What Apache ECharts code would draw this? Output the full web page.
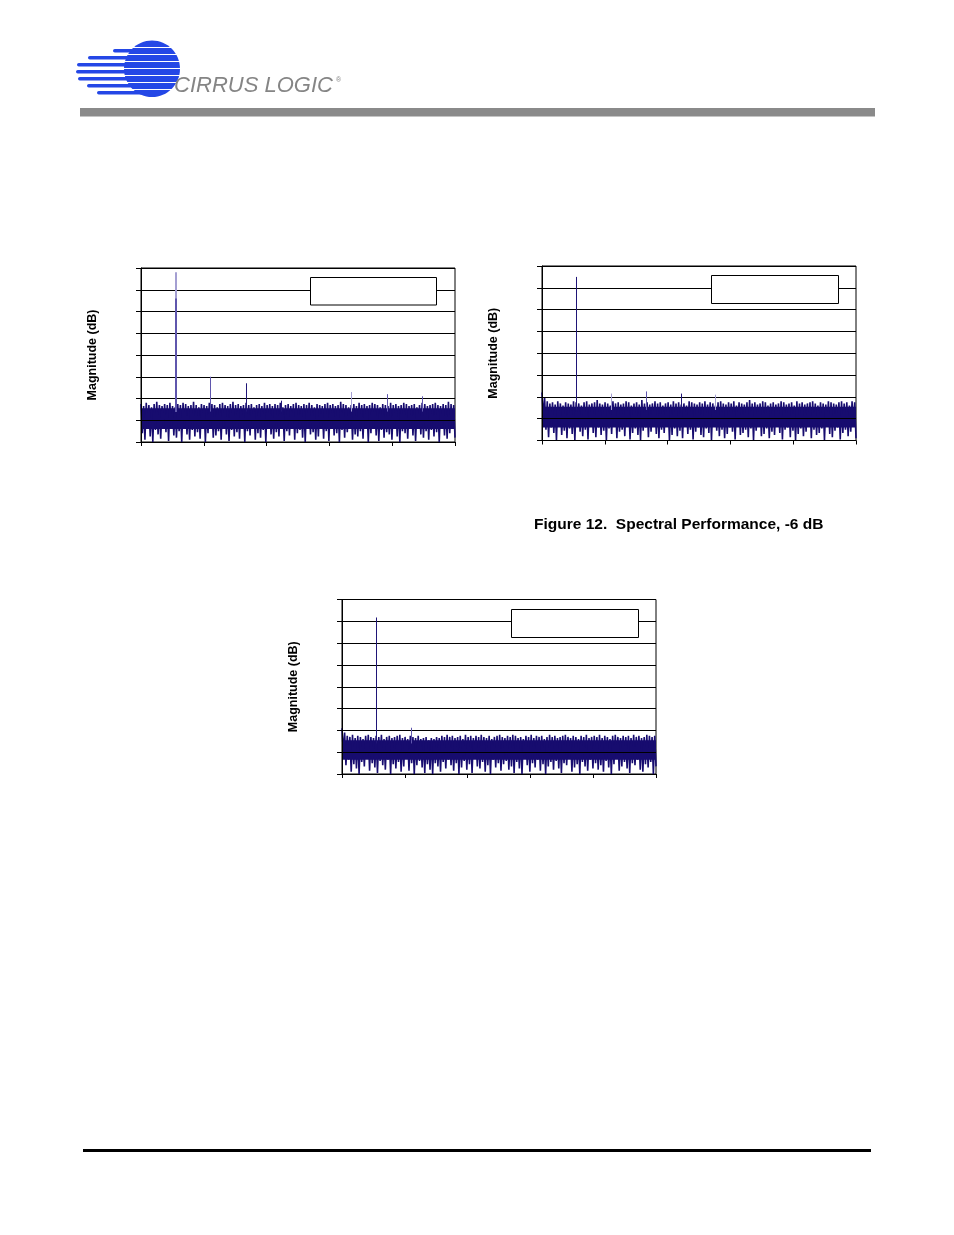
<!DOCTYPE html>
<html>
<head>
<meta charset="utf-8">
<script src="https://cdn.jsdelivr.net/npm/echarts@6/dist/echarts.min.js"></script>
<style>
html,body{margin:0;padding:0;background:#fff;}
#page{width:954px;height:1235px;}
</style>
</head>
<body>
<div id="page"></div>
<script>
// ---------- DATA ----------
const axisTitle = 'Magnitude (dB)';
const caption = 'Figure 12.  Spectral Performance, -6 dB';
const freqRange = [0, 20];        // kHz, 5 divisions (labels not shown in reference)
const magRange = [-160, 0];       // dB, 8 divisions (labels not shown in reference)

// Noise floor: per-bin peak (top) and trough (dip), dB
const tops1 = [-125,-127,-124,-126,-128,-125,-123,-126,-127,-125,-126,-124,-127,-128,-125,-126,-124,-125,-127,-126,-123,-126,-128,-125,-126,-127,-124,-125,-126,-128,-125,-124,-126,-127,-125,-123,-126,-125,-127,-126,-124,-126,-125,-128,-126,-125,-127,-124,-126,-125,-127,-125,-126,-124,-128,-126,-125,-127,-125,-124,-126,-127,-125,-126,-124,-126,-128,-125,-126,-127,-125,-124,-126,-125,-127,-126,-123,-125,-126,-128,-126,-125,-127,-124,-126,-125,-127,-126,-124,-125,-126,-128,-125,-126,-127,-124,-126,-125,-127,-126,-124,-125,-127,-126,-125,-128,-126,-124,-125,-127,-126,-125,-124,-126,-127,-125,-126,-123,-125,-126];
const dips1 = [-152,-158,-147,-155,-160,-149,-153,-157,-145,-151,-159,-148,-154,-156,-150,-160,-146,-153,-158,-149,-155,-151,-157,-147,-160,-152,-148,-156,-154,-150,-158,-146,-153,-159,-149,-155,-151,-157,-148,-160,-150,-154,-147,-158,-152,-156,-149,-160,-145,-153,-157,-151,-155,-148,-159,-150,-154,-146,-158,-152,-149,-156,-160,-147,-153,-151,-158,-155,-148,-157,-150,-159,-146,-154,-152,-160,-149,-156,-151,-147,-158,-153,-155,-150,-157,-148,-160,-152,-146,-154,-159,-149,-156,-151,-153,-158,-147,-155,-160,-150,-152,-157,-148,-154,-159,-146,-153,-156,-150,-158,-149,-155,-151,-160,-147,-154,-157,-152,-148,-156];
const tops2 = [-116,-121,-124,-126,-125,-127,-124,-126,-128,-125,-126,-127,-124,-125,-126,-128,-125,-124,-127,-126,-125,-123,-126,-127,-125,-126,-128,-124,-126,-125,-127,-126,-124,-125,-128,-126,-125,-127,-123,-126,-125,-127,-126,-124,-126,-125,-128,-126,-125,-127,-124,-126,-125,-127,-126,-128,-124,-125,-126,-127,-125,-126,-124,-127,-125,-126,-128,-125,-124,-126,-127,-125,-126,-124,-128,-125,-126,-127,-125,-123,-126,-125,-127,-126,-124,-125,-128,-126,-125,-127,-126,-124,-125,-127,-126,-125,-128,-124,-126,-125,-127,-126,-125,-124,-126,-128,-125,-126,-127,-124,-125,-126,-127,-125,-124,-126,-125,-128,-124,-125];
const dips2 = [-138,-150,-157,-148,-153,-160,-146,-155,-151,-158,-149,-154,-160,-147,-152,-156,-150,-159,-145,-153,-157,-148,-155,-151,-160,-149,-154,-146,-158,-152,-150,-156,-147,-159,-153,-149,-155,-160,-151,-148,-157,-152,-146,-154,-158,-150,-153,-147,-160,-155,-149,-156,-151,-158,-146,-154,-150,-159,-152,-148,-155,-157,-149,-153,-160,-147,-151,-156,-150,-158,-154,-148,-152,-159,-146,-155,-153,-150,-157,-149,-160,-151,-147,-156,-154,-149,-158,-152,-155,-146,-153,-159,-150,-148,-157,-151,-160,-154,-149,-156,-152,-147,-158,-150,-155,-153,-149,-160,-146,-154,-157,-151,-148,-159,-153,-150,-156,-152,-147,-158];
const tops3 = [-118,-122,-125,-126,-124,-127,-125,-126,-128,-125,-124,-126,-127,-125,-126,-124,-128,-126,-125,-127,-126,-125,-124,-127,-126,-128,-125,-126,-127,-125,-128,-127,-126,-129,-127,-128,-126,-127,-125,-126,-124,-126,-125,-127,-126,-125,-128,-124,-126,-125,-127,-125,-126,-124,-126,-127,-125,-128,-126,-125,-124,-126,-127,-125,-126,-124,-125,-127,-126,-128,-125,-126,-124,-127,-125,-126,-125,-128,-126,-124,-126,-125,-127,-126,-125,-124,-126,-127,-125,-126,-128,-125,-126,-124,-127,-126,-125,-126,-124,-127,-125,-126,-128,-125,-124,-126,-127,-125,-126,-125,-127,-124,-126,-125,-127,-126,-124,-125,-126,-125];
const dips3 = [-140,-152,-147,-158,-151,-155,-160,-149,-153,-146,-157,-150,-154,-159,-148,-152,-156,-147,-160,-151,-155,-149,-158,-153,-146,-157,-150,-160,-152,-148,-154,-159,-151,-156,-160,-150,-153,-158,-149,-155,-147,-152,-157,-150,-160,-154,-148,-156,-151,-159,-146,-153,-155,-149,-158,-152,-160,-147,-154,-150,-157,-151,-148,-156,-153,-159,-149,-155,-160,-146,-152,-158,-150,-154,-147,-157,-151,-160,-153,-149,-156,-148,-155,-159,-150,-152,-146,-158,-154,-151,-160,-149,-153,-157,-147,-155,-150,-156,-152,-158,-148,-154,-160,-151,-146,-157,-153,-149,-155,-159,-150,-152,-147,-156,-158,-151,-154,-149,-160,-153];

// Solid core of the noise floor (dB)
const core1 = [-129, -148];
const core2 = [-129, -148];
const core3 = [-129, -147];

// Discrete tones: frequency (kHz), peak (dB), shade
const toneFreq1 = [2.21, 2.21, 4.44, 6.71, 8.94, 13.41, 15.66, 17.93];
const tonePeak1 = [-4, -28, -100, -106, -122, -114, -116, -118];
const toneShade1 = ['light', 'mid', 'mid', 'dark', 'dark', 'light', 'mid', 'mid'];
const toneFreq2 = [0.04, 0.04, 2.21, 4.44, 6.65, 8.85, 11.06];
const tonePeak2 = [-80, -116, -10, -117, -115, -117, -118];
const toneShade2 = ['light', 'dark', 'dark', 'light', 'mid', 'dark', 'light'];
const toneFreq3 = [0.04, 0.04, 2.21, 4.44];
const tonePeak3 = [-98, -117, -16.5, -117.6];
const toneShade3 = ['light', 'dark', 'dark', 'mid'];

// ---------- CHART ----------
const NAVY = '#170c6f';
const SHADES = { light: '#a49fd2', mid: '#5f56ad', dark: '#1f1577' };
const FONT = '"Liberation Sans", Arial, Helvetica, sans-serif';
const LOGO_BLUE = '#2447e6';

const grids = [
  { left: 141, top: 268, width: 314, height: 174 },
  { left: 542, top: 266, width: 314, height: 174.5 },
  { left: 342, top: 599.5, width: 314, height: 174.5 }
];
const noise = [[tops1, dips1, core1], [tops2, dips2, core2], [tops3, dips3, core3]];
const tones = [[toneFreq1, tonePeak1, toneShade1], [toneFreq2, tonePeak2, toneShade2], [toneFreq3, tonePeak3, toneShade3]];

function trace(tops, dips) {
  const out = [];
  const n = tops.length * 2;
  for (let i = 0; i < tops.length; i++) {
    out.push([(2 * i) * (freqRange[1] - freqRange[0]) / (n - 1), tops[i]]);
    out.push([(2 * i + 1) * (freqRange[1] - freqRange[0]) / (n - 1), dips[i]]);
  }
  return out;
}

// logo: ball (ellipse) with white stripes, plus tails to the left
const logoRows = [ // [tail start x, row top y, ball left x]
  [143, 41, 141], [113, 48, 131], [88, 55, 127], [77, 62, 125],
  [76, 69, 125], [78, 76, 127], [87, 83, 131], [97, 90, 139]
];
const logoShapes = [
  { type: 'ellipse', shape: { cx: 152, cy: 68.7, rx: 28, ry: 28.3 }, style: { fill: LOGO_BLUE } }
];
logoRows.forEach((r, k) => {
  logoShapes.push({ type: 'rect', shape: { x: r[0], y: r[1] + 1, width: r[2] - r[0] + 4, height: 3.6, r: [1.8, 0, 0, 1.8] }, style: { fill: LOGO_BLUE } });
  if (k < logoRows.length - 1) {
    logoShapes.push({ type: 'rect', shape: { x: 118, y: r[1] + 5.9, width: 66, height: 1.1 }, style: { fill: '#fff' } });
  }
});

const option = {
  animation: false,
  grid: grids.map(g => Object.assign({ show: true, borderColor: '#000', borderWidth: 1, backgroundColor: 'transparent' }, g)),
  xAxis: grids.map((g, i) => ({
    type: 'value', gridIndex: i, min: freqRange[0], max: freqRange[1], interval: 4, z: 5,
    axisLine: { show: true, onZero: false, lineStyle: { color: '#000', width: 1 } },
    axisTick: { show: true, length: 4, lineStyle: { color: '#000' } },
    axisLabel: { show: false }, splitLine: { show: false }
  })),
  yAxis: grids.map((g, i) => ({
    type: 'value', gridIndex: i, min: magRange[0], max: magRange[1], interval: 20, z: 5,
    name: axisTitle, nameLocation: 'middle', nameRotate: 90, nameGap: 42,
    nameTextStyle: { fontFamily: FONT, fontWeight: 'bold', fontSize: 12.5, color: '#000' },
    axisLine: { show: true, lineStyle: { color: '#000', width: 1 } },
    axisTick: { show: true, length: 5, lineStyle: { color: '#000' } },
    axisLabel: { show: false },
    splitLine: { show: true, lineStyle: { color: '#000', width: 1 } }
  })),
  series: noise.map((nz, i) => ({
    type: 'line', xAxisIndex: i, yAxisIndex: i, data: trace(nz[0], nz[1]),
    symbol: 'none', lineStyle: { color: NAVY, width: 1.6 }, z: 2,
    markArea: { silent: true, itemStyle: { color: NAVY },
      data: [[{ xAxis: freqRange[0], yAxis: nz[2][0] }, { xAxis: freqRange[1], yAxis: nz[2][1] }]] },
    markLine: { silent: true, symbol: ['none', 'none'], label: { show: false },
      data: tones[i][0].map((f, k) => [
        { coord: [f, -132], lineStyle: { color: SHADES[tones[i][2][k]], width: (i === 0 && k < 2) ? 2 : 1, type: 'solid' } },
        { coord: [f, tones[i][1][k]] }
      ]) }
  })),
  graphic: [
    // legend boxes (empty in the reference)
    { type: 'rect', z: 100, shape: { x: 310.5, y: 277.5, width: 126, height: 27.5 }, style: { fill: '#fff', stroke: '#000', lineWidth: 1 } },
    { type: 'rect', z: 100, shape: { x: 711.5, y: 275.5, width: 127, height: 28 }, style: { fill: '#fff', stroke: '#000', lineWidth: 1 } },
    { type: 'rect', z: 100, shape: { x: 511.5, y: 609.5, width: 127, height: 28 }, style: { fill: '#fff', stroke: '#000', lineWidth: 1 } },
    // caption
    { type: 'text', z: 100, style: { x: 534, y: 524.5, text: caption, fill: '#000', font: 'bold 15.5px ' + FONT, verticalAlign: 'middle' } },
    // header bar
    { type: 'rect', z: 100, shape: { x: 80, y: 108, width: 795, height: 8.5 }, style: { fill: '#8a8a8a' } },
    // footer rule
    { type: 'rect', z: 100, shape: { x: 83, y: 1149, width: 788, height: 3 }, style: { fill: '#000' } },
    // logo
    { type: 'group', z: 100, children: logoShapes },
    { type: 'text', z: 100, style: { x: 174, y: 85.5, text: 'CIRRUS LOGIC', fill: '#858585', font: 'italic 22px ' + FONT, verticalAlign: 'middle' } },
    { type: 'text', z: 100, style: { x: 336, y: 80, text: '®', fill: '#858585', font: '7px ' + FONT, verticalAlign: 'middle' } }
  ]
};

const chart = echarts.init(document.getElementById('page'), null, { renderer: 'canvas', width: 954, height: 1235 });
chart.setOption(option);
</script>
</body>
</html>
